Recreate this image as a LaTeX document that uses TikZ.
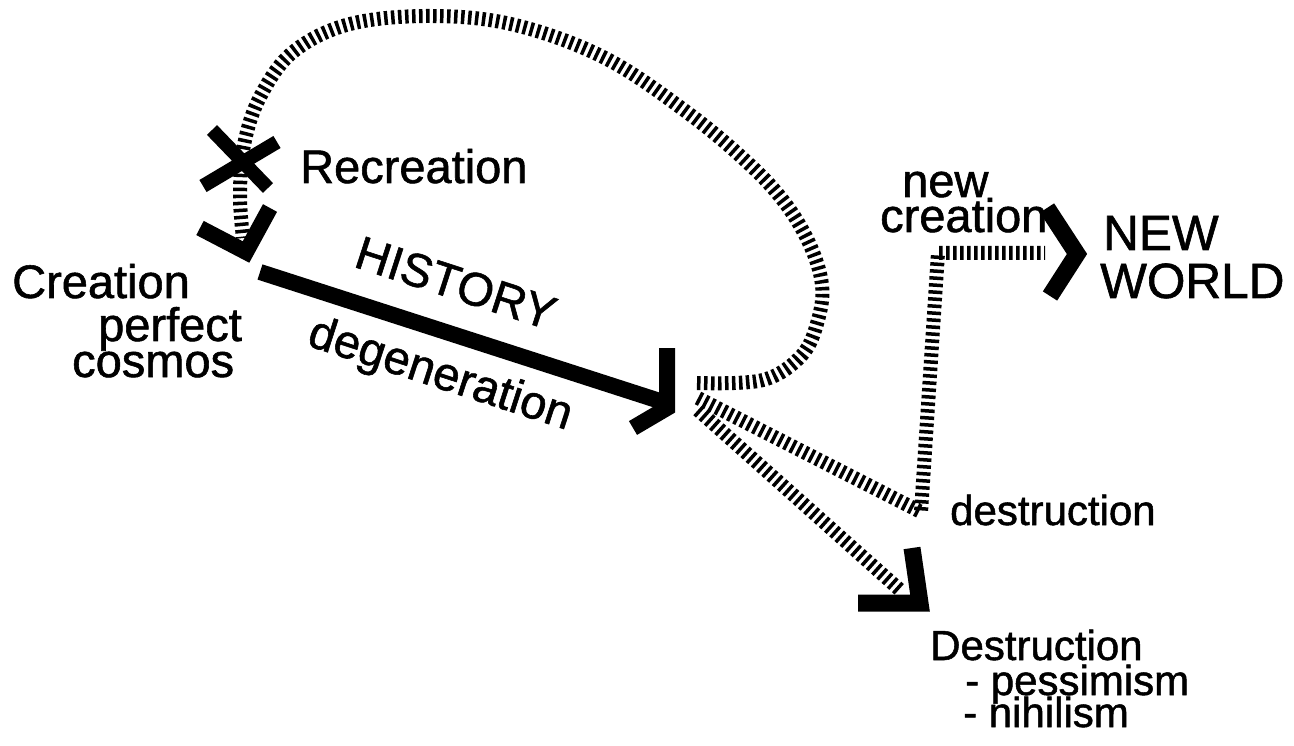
\documentclass[tikz,border=0pt]{standalone}
\usepackage{fontspec}
\setmainfont{Liberation Sans}[FakeBold=1.2]
\begin{document}
\begin{tikzpicture}[x=1pt,y=-1pt,
  hatch/.style={line width=14pt, dash pattern=on 3.5pt off 3.5pt, line cap=butt},
  solidbar/.style={line width=16pt, line cap=butt, line join=miter},
  lbl/.style={inner sep=0pt, anchor=base west, font=\fontsize{47}{47}\selectfont},
  big/.style={lbl, font=\fontsize{49.5}{49.5}\selectfont},
  sml/.style={inner sep=0pt, anchor=base west, font=\fontsize{42}{42}\selectfont}]
\useasboundingbox (0,0) rectangle (1294,746);
% labels
\node[lbl] (recre) at (300,183) {Recreation};
\node[lbl] (crea) at (12,298) {Creation};
\node[lbl] (perf) at (98,341) {perfect};
\node[lbl] (cosm) at (72,377) {cosmos};
\node[lbl, anchor=center, rotate=-18] (hist) at (456,283) {HISTORY};
\node[lbl, anchor=center, rotate=-18] (degen) at (440,376) {degeneration};
\node[lbl] (new) at (902,197) {new};
\node[lbl] (ncrea) at (880,232) {creation};
\node[big] (NEW) at (1103,250) {NEW};
\node[big] (WORLD) at (1100,298) {WORLD};
\node[sml] (destr) at (950,525) {destruction};
\node[sml] (Destr) at (930,660) {Destruction};
\node[sml] (pess) at (965,695) {- pessimism};
\node[sml] (nihil) at (963,727) {- nihilism};
% key points
\coordinate (hs) at (260,272);
\coordinate (he) at (666,403);
\coordinate (lpS) at (697,383);
\coordinate (crtip) at (243,238);
\coordinate (mS) at (698,398);
\coordinate (mC) at (921,512);
\coordinate (mU) at (938,253);
\coordinate (mE) at (1045,253);
\coordinate (lS) at (698,410);
\coordinate (lE) at (900,590);
% history bar
\draw[solidbar] (hs) -- (he);
\draw[solidbar] (667,348) -- (667,408) -- (633,428);
% loop back (recreation)
\draw[hatch] plot[smooth, tension=0.6] coordinates {(lpS) (763,380) (802,355) (818,320) (822,285) (810,245) (785,203) (748,163) (688,113) (605,58) (515,25) (432,16) (350,24) (293,52) (260,97) (244,145) (240,195) (crtip)};
% X mark
\draw[solidbar, line width=14pt] (212,130) -- (268,188);
\draw[solidbar, line width=14pt] (277,142) -- (203,186);
% arrowhead at creation
\draw[solidbar] (200,228) -- (246,252) -- (270,208);
% destruction -> new creation -> new world
\draw[hatch, line join=miter] (mS) -- (mC) -- (mU) -- (mE);
\draw[solidbar, line width=17pt] (1047,208) -- (1077,254) -- (1050,296);
% to Destruction
\draw[hatch] (lS) -- (lE);
\draw[solidbar, line width=17pt] (912,548) -- (920,603) -- (858,603);
\end{tikzpicture}
\end{document}
